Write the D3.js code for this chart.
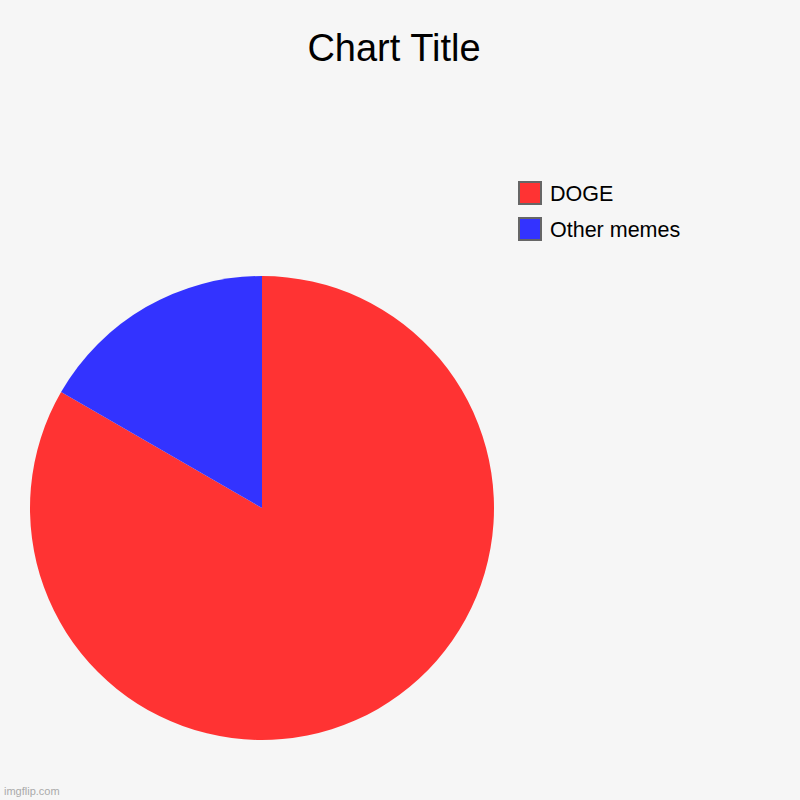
<!DOCTYPE html>
<html>
<head>
<meta charset="utf-8">
<script src="https://cdn.jsdelivr.net/npm/d3@7"></script>
<style>
  html, body { margin: 0; padding: 0; background: #f6f6f6; }
  svg { display: block; font-family: "Liberation Sans", Arial, sans-serif; }
</style>
</head>
<body>
<svg id="chart_svg"></svg>
<script>
// chart data
var labels = ["DOGE", "Other memes"];
var values = [5, 1];
var colors = ["#ff3333", "#3333ff"];
var title = "Chart Title";

var svgWidth = 800, svgHeight = 800;
var svg = d3.select("#chart_svg")
    .attr("width", svgWidth)
    .attr("height", svgHeight);

svg.append("rect")
    .attr("width", svgWidth)
    .attr("height", svgHeight)
    .attr("fill", "#f6f6f6");

// title
svg.append("text")
    .attr("x", 394)
    .attr("y", 61)
    .attr("text-anchor", "middle")
    .style("font-size", "38px")
    .attr("fill", "#000")
    .text(title);

// pie
var radius = 232;
var pieData = labels.map(function (d, i) { return { label: d, value: values[i], color: colors[i] }; });

var pie = d3.pie()
    .value(function (d) { return d.value; })
    .sort(null);

var arc = d3.arc()
    .innerRadius(0)
    .outerRadius(radius);

var chart = svg.append("g")
    .attr("transform", "translate(262, 508)");

chart.selectAll("path")
    .data(pie(pieData))
    .join("path")
    .attr("d", arc)
    .attr("fill", function (d) { return d.data.color; });

// legend
var legend = svg.append("g")
    .attr("transform", "translate(519, 182)");

var legendItem = legend.selectAll("g")
    .data(pieData)
    .join("g")
    .attr("transform", function (d, i) { return "translate(0," + (i * 36) + ")"; });

legendItem.append("rect")
    .attr("width", 22)
    .attr("height", 22)
    .attr("fill", function (d) { return d.color; })
    .attr("stroke", "#666")
    .attr("stroke-width", 2);

legendItem.append("text")
    .attr("x", 31)
    .attr("y", 18.5)
    .style("font-size", "21.5px")
    .attr("fill", "#000")
    .text(function (d) { return d.label; });

// watermark
svg.append("text")
    .attr("x", 4)
    .attr("y", 795)
    .style("font-size", "11px")
    .attr("fill", "#aaa")
    .text("imgflip.com");
</script>
</body>
</html>
